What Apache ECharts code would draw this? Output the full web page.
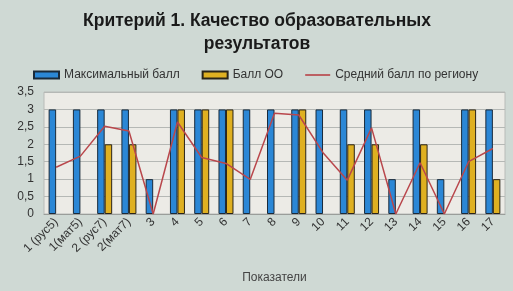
<!DOCTYPE html>
<html>
<head>
<meta charset="utf-8">
<script src="https://cdn.jsdelivr.net/npm/echarts@6/dist/echarts.min.js"></script>
<style>
html, body { margin: 0; padding: 0; background: #cfd9d4; }
#chart { width: 513px; height: 291px; }
</style>
</head>
<body>
<div id="chart"></div>
<script>
var categories = ['1 (рус5)', '1(мат5)', '2 (рус7)', '2(мат7)', '3', '4', '5', '6', '7', '8', '9', '10', '11', '12', '13', '14', '15', '16', '17'];
var maxScore = [3, 3, 3, 3, 1, 3, 3, 3, 3, 3, 3, 3, 3, 3, 1, 3, 1, 3, 3];
var schoolScore = [0, 0, 2, 2, 0, 3, 3, 3, 0, 0, 3, 0, 2, 2, 0, 2, 0, 3, 1];
var regionAvg = [1.34, 1.66, 2.52, 2.38, 0, 2.64, 1.62, 1.45, 0.99, 2.89, 2.84, 1.76, 0.97, 2.47, 0, 1.47, 0, 1.5, 1.88];

// zero bars are not drawn in the original
function hideZero(arr) {
    return arr.map(function (v) { return v === 0 ? null : v; });
}

var chart = echarts.init(document.getElementById('chart'));

var option = {
    backgroundColor: '#cfd9d4',
    title: {
        text: 'Критерий 1. Качество образовательных\nрезультатов',
        left: 252,
        top: 5,
        textAlign: 'center',
        textStyle: {
            fontFamily: 'Liberation Sans',
            fontSize: 17.5,
            fontWeight: 'bold',
            color: '#1a1a1a',
            lineHeight: 23
        }
    },
    legend: {
        top: 64,
        left: 28,
        itemWidth: 25,
        itemHeight: 7,
        itemGap: 22,
        textStyle: { fontFamily: 'Liberation Sans', fontSize: 12, color: '#333' },
        data: [
            { name: 'Максимальный балл', icon: 'rect' },
            { name: 'Балл ОО', icon: 'rect' },
            { name: 'Средний балл по региону', icon: 'path://M0,0H24V1.6H0Z' }
        ]
    },
    grid: {
        left: 44,
        right: 8,
        top: 92,
        bottom: 77,
        show: true,
        backgroundColor: '#ecebe6',
        borderColor: '#b8bbb8',
        borderWidth: 1
    },
    xAxis: {
        type: 'category',
        data: categories,
        name: 'Показатели',
        nameLocation: 'middle',
        nameGap: 58,
        nameTextStyle: { fontFamily: 'Liberation Sans', fontSize: 12, color: '#444' },
        axisLine: { lineStyle: { color: '#9a9d9a' } },
        axisTick: { show: false },
        axisLabel: {
            rotate: 45,
            interval: 0,
            margin: 6,
            fontFamily: 'Liberation Sans',
            fontSize: 12,
            color: '#333'
        }
    },
    yAxis: {
        type: 'value',
        min: 0,
        max: 3.5,
        interval: 0.5,
        axisLine: { show: false },
        axisTick: { show: false },
        splitLine: { lineStyle: { color: '#b5b8b5' } },
        axisLabel: {
            fontFamily: 'Liberation Sans',
            fontSize: 12,
            color: '#333',
            margin: 10,
            formatter: function (v) { return String(v).replace('.', ','); }
        }
    },
    series: [
        {
            name: 'Максимальный балл',
            type: 'bar',
            data: hideZero(maxScore),
            barWidth: 7.5,
            barGap: '0%',
            itemStyle: { color: '#2b87d6', borderColor: '#1a2a3a', borderWidth: 1 }
        },
        {
            name: 'Балл ОО',
            type: 'bar',
            data: hideZero(schoolScore),
            barWidth: 7.5,
            barGap: '0%',
            itemStyle: { color: '#dfb021', borderColor: '#2a2418', borderWidth: 1 }
        },
        {
            name: 'Средний балл по региону',
            type: 'line',
            data: regionAvg,
            symbol: 'none',
            lineStyle: { color: '#b9474c', width: 1.5 },
            itemStyle: { color: '#b9474c' }
        }
    ]
};

chart.setOption(option);
</script>
</body>
</html>
